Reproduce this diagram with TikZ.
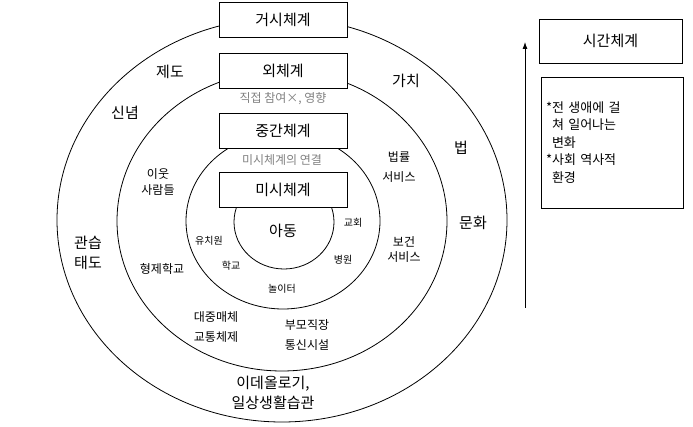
\documentclass[tikz,border=0pt]{standalone}
\usepackage{fontspec}
\setmainfont{Noto Sans CJK KR}
\usetikzlibrary{arrows.meta}
\def\big{\fontsize{15}{20}\selectfont}
\def\mid{\fontsize{12}{20}\selectfont}
\def\sml{\fontsize{10}{12}\selectfont}

\begin{document}
\begin{tikzpicture}[x=1pt,y=-1pt,line width=0.8pt,
    sysbox/.style={draw,fill=white,minimum width=128pt,minimum height=35pt,inner sep=0pt,font=\big},
    note/.style={text=gray,font=\mid}]
            \useasboundingbox (0,0) rectangle (693,427);
            % rings
            \draw (282,220) ellipse [x radius=225pt, y radius=202pt];
            \draw (282,221) ellipse [x radius=165pt, y radius=150pt];
            \draw (283,221) ellipse [x radius=97pt, y radius=88pt];
            \draw (284,222) ellipse [x radius=50pt, y radius=47pt];
            % system boxes
            \node[sysbox] (macro) at (283,20)  {거시체계};
            \node[sysbox] (exo)   at (283,71)  {외체계};
            \node[sysbox] (meso)  at (283,131) {중간체계};
            \node[sysbox] (micro) at (283,190) {미시체계};
            % macro ring
            \node[font=\big] (inst)    at (170,72)  {제도};
            \node[font=\big] (values)  at (406,81)  {가치};
            \node[font=\big] (belief)  at (125,113) {신념};
            \node[font=\big] (law)     at (461,148) {법};
            \node[font=\big] (culture) at (473,223) {문화};
            \node[font=\big,align=center] (custom) at (88,253)  {관습\\태도};
            \node[font=\big,align=center] (ideo)   at (273,393) {이데올로기,\\일상생활습관};
            % exo ring
            \node[note] (exonote) at (283,99) {직접 참여×, 영향};
            \node[font=\mid,align=center] (legal)  at (399,167) {법률\\서비스};
            \node[font=\fontsize{12}{16}\selectfont,align=center] (neigh)  at (158,182) {이웃\\사람들};
            \node[font=\fontsize{12}{15}\selectfont,align=center] (health) at (404,250) {보건\\서비스};
            \node[font=\mid] (sibsch) at (162,269) {형제학교};
            \node[font=\mid,align=center] (media) at (216,327) {대중매체\\교통체제};
            \node[font=\mid,align=center] (work)  at (307,335) {부모직장\\통신시설};
            % meso ring
            \node[note] (mesonote) at (282,160) {미시체계의 연결};
            \node[font=\sml] (church) at (353,223) {교회};
            \node[font=\sml] (kinder) at (209,241) {유치원};
            \node[font=\sml] (school) at (231,266) {학교};
            \node[font=\sml] (hosp)   at (343,260) {병원};
            \node[font=\sml] (play)   at (282,289) {놀이터};
            % child
            \node[font=\big] (child) at (283,231) {아동};
            % time
            \coordinate (tlow) at (525,308);
            \coordinate (thigh) at (525,42);
            \draw[-{Latex[length=7pt,width=5pt]}] (tlow) -- (thigh);
            \node[draw,minimum width=143pt,minimum height=44pt,font=\big] (time) at (610.5,41) {시간체계};
            \node[draw,minimum width=142pt,minimum height=131pt,text width=132pt,inner xsep=5pt,
                  align=left,font=\fontsize{13}{17.5}\selectfont] (timenote) at (612,142.5)
                  {{*}전 생애에 걸\\\hspace*{6pt}쳐 일어나는\\\hspace*{6pt}변화\\{*}사회 역사적\\\hspace*{6pt}환경};
\end{tikzpicture}
\end{document}
